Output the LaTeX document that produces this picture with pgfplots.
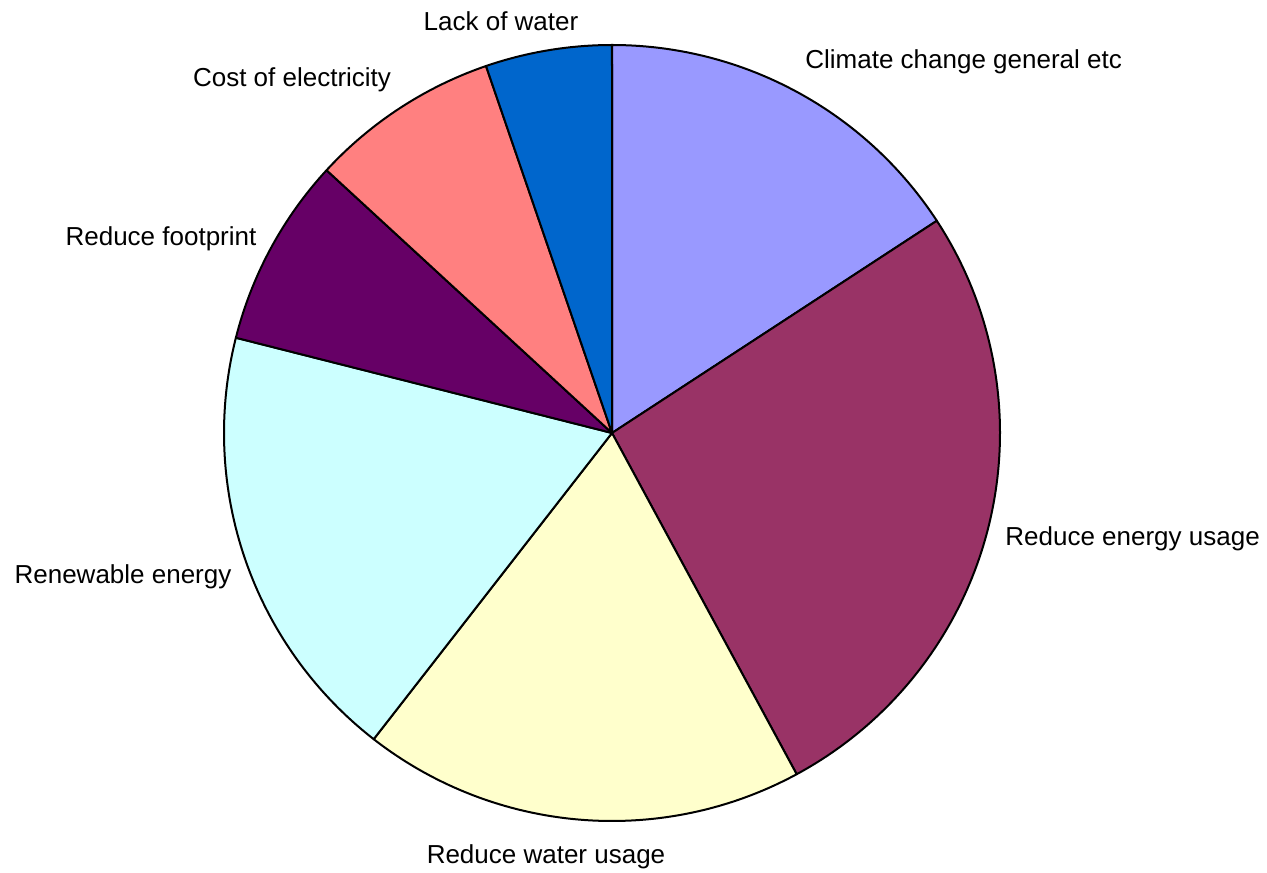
\documentclass[border=0pt]{standalone}
\usepackage{pgfplots}
\pgfplotsset{compat=1.18}
\usepackage{fontspec}
\setmainfont{Liberation Sans}
\definecolor{cClimate}{HTML}{9999FF}
\definecolor{cEnergy}{HTML}{993366}
\definecolor{cWater}{HTML}{FFFFCC}
\definecolor{cRenew}{HTML}{CCFFFF}
\definecolor{cFoot}{HTML}{660066}
\definecolor{cCost}{HTML}{FF8080}
\definecolor{cLack}{HTML}{0066CC}
% slice values (counts)
\def\vA{6}  % Climate change general etc
\def\vB{10} % Reduce energy usage
\def\vC{7}  % Reduce water usage
\def\vD{7}  % Renewable energy
\def\vE{3}  % Reduce footprint
\def\vF{3}  % Cost of electricity
\def\vG{2}  % Lack of water
\pgfmathsetmacro\tot{\vA+\vB+\vC+\vD+\vE+\vF+\vG}
\pgfmathsetmacro\aA{0}
\pgfmathsetmacro\aB{\aA+\vA*360/\tot}
\pgfmathsetmacro\aC{\aB+\vB*360/\tot}
\pgfmathsetmacro\aD{\aC+\vC*360/\tot}
\pgfmathsetmacro\aE{\aD+\vD*360/\tot}
\pgfmathsetmacro\aF{\aE+\vE*360/\tot}
\pgfmathsetmacro\aG{\aF+\vF*360/\tot}
\pgfmathsetmacro\aH{\aG+\vG*360/\tot}
\newcommand{\sector}[3]{%
  \addplot[fill=#1, draw=black, line width=1pt, line join=round, domain=#2:#3, samples=150]
    ({612+388*sin(x)},{439+388*cos(x)}) -- (axis cs:612,439) -- cycle;}
\tikzset{lbl/.style={font=\fontsize{13}{15.6}\selectfont, inner sep=0pt}}
\begin{document}
\begin{tikzpicture}
\begin{axis}[
  width=633.5pt, height=436pt, scale only axis,
  xmin=0, xmax=1267, ymin=0, ymax=872,
  hide axis, clip=false,
]
\path (axis cs:0,0) rectangle (axis cs:1267,872);
\sector{cClimate}{\aA}{\aB}
\sector{cEnergy}{\aB}{\aC}
\sector{cWater}{\aC}{\aD}
\sector{cRenew}{\aD}{\aE}
\sector{cFoot}{\aE}{\aF}
\sector{cCost}{\aF}{\aG}
\sector{cLack}{\aG}{\aH}
\node[lbl, anchor=center] at (axis cs:501,851) {Lack of water};
\node[lbl, anchor=west] at (axis cs:805,810) {Climate change general etc};
\node[lbl, anchor=center] at (axis cs:292,792) {Cost of electricity};
\node[lbl, anchor=center] at (axis cs:161,633) {Reduce footprint};
\node[lbl, anchor=west] at (axis cs:1005,333) {Reduce energy usage};
\node[lbl, anchor=center] at (axis cs:123,295) {Renewable energy};
\node[lbl, anchor=center] at (axis cs:546,15) {Reduce water usage};
\end{axis}
\end{tikzpicture}
\end{document}
